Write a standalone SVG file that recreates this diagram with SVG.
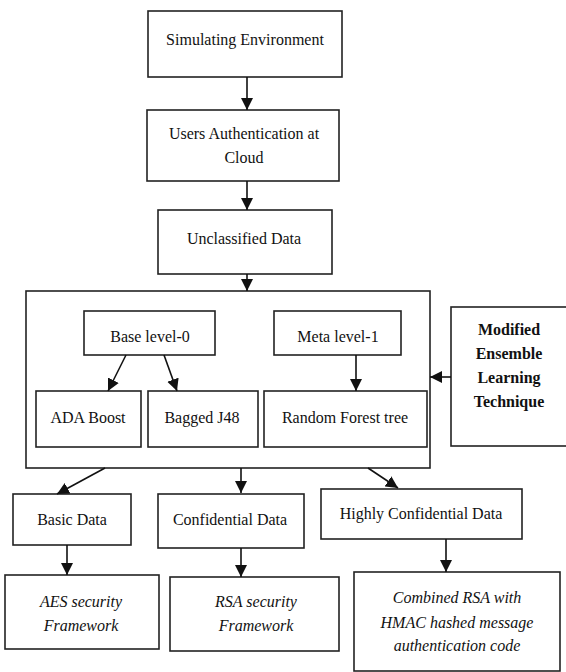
<svg xmlns="http://www.w3.org/2000/svg" width="566" height="672" viewBox="0 0 566 672">
<defs>
<marker id="ah" markerWidth="12" markerHeight="13" refX="12" refY="6" orient="auto" markerUnits="userSpaceOnUse" viewBox="0 0 12 12">
<path d="M0,0 L12,6 L0,12 Z" fill="#111"/>
</marker>
</defs>
<style>
.box{fill:#fff;stroke:#222;stroke-width:1.6}
.t{font-family:"Liberation Serif","Times New Roman",serif;font-size:16px;fill:#111;text-anchor:middle}
.b{font-weight:bold}
.i{font-style:italic}
.c{stroke:#111;stroke-width:1.6;fill:none;marker-end:url(#ah)}
</style>
<rect width="566" height="672" fill="#fff"/>
<g id="simulating"><rect class="box" x="148" y="11" width="194" height="66"/><text class="t" x="245" y="45">Simulating Environment</text></g>
<g id="auth"><rect class="box" x="147" y="110" width="192" height="71"/><text class="t" x="244" y="139">Users Authentication at</text><text class="t" x="244" y="163">Cloud</text></g>
<g id="unclassified"><rect class="box" x="158" y="210" width="174" height="64"/><text class="t" x="244" y="244">Unclassified Data</text></g>
<g id="ensemble"><rect class="box" x="26" y="291" width="404" height="177"/></g>
<g id="base"><rect class="box" x="84" y="311" width="131" height="44"/><text class="t" x="150" y="342">Base level-0</text></g>
<g id="meta"><rect class="box" x="274" y="311" width="127" height="44"/><text class="t" x="338" y="342">Meta level-1</text></g>
<g id="ada"><rect class="box" x="36" y="391" width="105" height="56"/><text class="t" x="88" y="423">ADA Boost</text></g>
<g id="bagged"><rect class="box" x="148" y="391" width="110" height="56"/><text class="t" x="202" y="423">Bagged J48</text></g>
<g id="rf"><rect class="box" x="264" y="391" width="163" height="56"/><text class="t" x="345" y="423">Random Forest tree</text></g>
<g id="melt"><rect class="box" x="451" y="307" width="120" height="139"/><text class="t b" x="509" y="335">Modified</text><text class="t b" x="509" y="359">Ensemble</text><text class="t b" x="509" y="383">Learning</text><text class="t b" x="509" y="407">Technique</text></g>
<g id="basic"><rect class="box" x="13" y="494" width="118" height="51"/><text class="t" x="72" y="525">Basic Data</text></g>
<g id="confidential"><rect class="box" x="158" y="494" width="146" height="54"/><text class="t" x="230" y="525">Confidential Data</text></g>
<g id="highly"><rect class="box" x="321" y="489" width="201" height="50"/><text class="t" x="421" y="519">Highly Confidential Data</text></g>
<g id="aes"><rect class="box" x="5" y="575" width="154" height="74"/><text class="t i" x="81" y="607">AES security</text><text class="t i" x="81" y="631">Framework</text></g>
<g id="rsa"><rect class="box" x="170" y="577" width="169" height="74"/><text class="t i" x="256" y="607">RSA security</text><text class="t i" x="256" y="631">Framework</text></g>
<g id="combined"><rect class="box" x="354" y="572" width="206" height="99"/><text class="t i" x="457" y="603">Combined RSA with</text><text class="t i" x="457" y="628">HMAC hashed message</text><text class="t i" x="457" y="651">authentication code</text></g>
<g id="connectors">
<line class="c" x1="247" y1="77" x2="247" y2="110"/>
<line class="c" x1="247" y1="181" x2="247" y2="210"/>
<line class="c" x1="247" y1="274" x2="247" y2="291"/>
<line class="c" x1="126" y1="355" x2="108" y2="391"/>
<line class="c" x1="164" y1="355" x2="177" y2="391"/>
<line class="c" x1="356" y1="355" x2="356" y2="391"/>
<line class="c" x1="451" y1="377" x2="430" y2="377"/>
<line class="c" x1="105" y1="468" x2="57" y2="494"/>
<line class="c" x1="241" y1="468" x2="241" y2="493"/>
<line class="c" x1="368" y1="468" x2="398" y2="488"/>
<line class="c" x1="67" y1="545" x2="67" y2="575"/>
<line class="c" x1="241" y1="548" x2="241" y2="577"/>
<line class="c" x1="446" y1="539" x2="446" y2="572"/>
</g>
</svg>
